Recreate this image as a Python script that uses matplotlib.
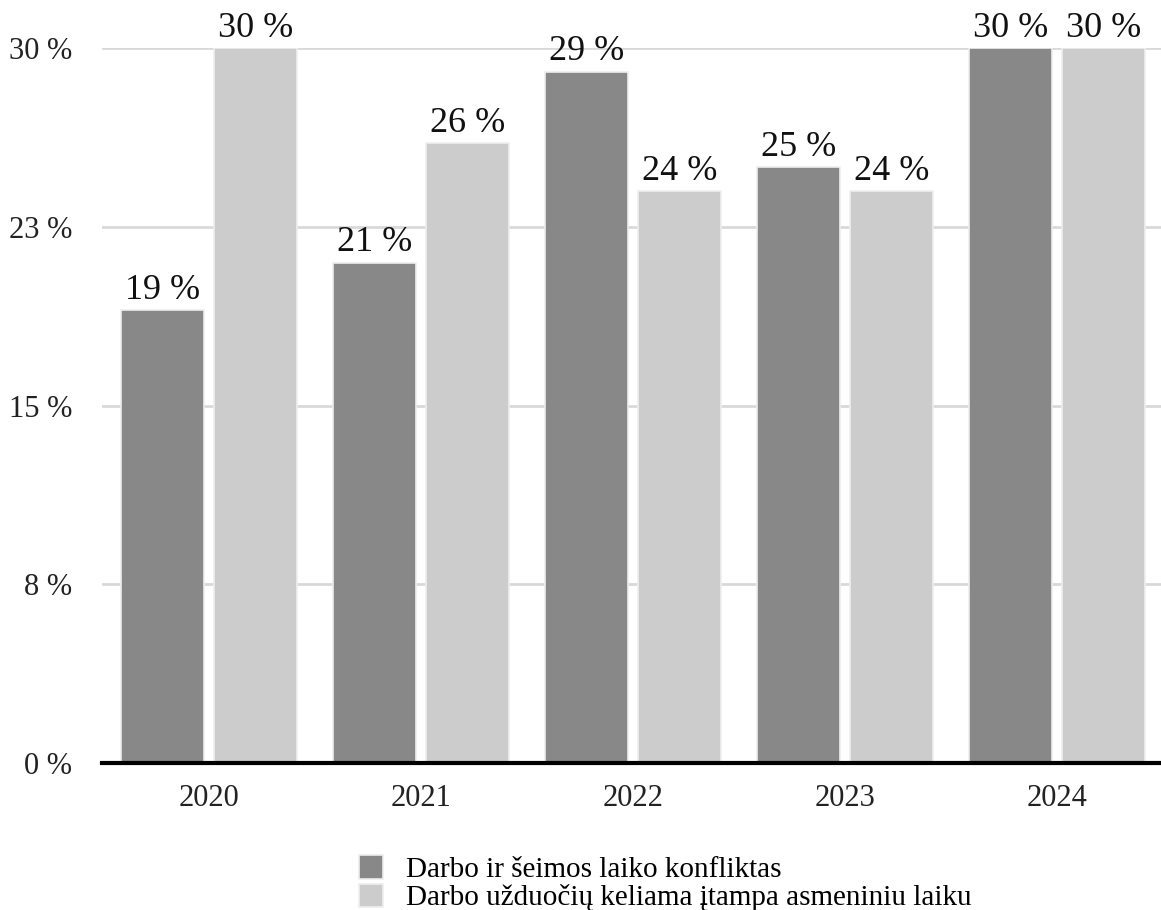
import matplotlib
matplotlib.use("Agg")
import matplotlib.pyplot as plt
import numpy as np

years = ["2020", "2021", "2022", "2023", "2024"]
series_names = ["Darbo ir šeimos laiko konfliktas",
                "Darbo užduočių keliama įtampa asmeniniu laiku"]
conflict = [19, 21, 29, 25, 30]
tension = [30, 26, 24, 24, 30]
ytick_values = [0, 7.5, 15, 22.5, 30]
ytick_labels = ["0 %", "8 %", "15 %", "23 %", "30 %"]

plt.rcParams['font.family'] = ['Liberation Serif', 'DejaVu Serif']

fig = plt.figure(figsize=(11.61, 9.10), dpi=100)
ax = fig.add_axes([0.0879, 0.1615, 0.9121, 0.7857])

x = np.arange(len(years))
w = 0.39
off = 0.22
colors = ["#888888", "#cccccc"]
for vals, o, c, name in [(conflict, -off, colors[0], series_names[0]),
                         (tension, off, colors[1], series_names[1])]:
    bars = ax.bar(x + o, vals, width=w, color=c, edgecolor="#eeeeee",
                  linewidth=1.2, label=name, zorder=3)
    for b, v in zip(bars, vals):
        ax.annotate(f"{v} %", (b.get_x() + b.get_width() / 2, v),
                    xytext=(0, 2.5), textcoords="offset points",
                    ha="center", va="bottom", fontsize=26, color="#111111",
                    annotation_clip=False)

ax.set_xlim(-0.505, 4.49)
ax.set_ylim(0, 30)
ax.set_yticks(ytick_values)
ax.set_yticklabels(ytick_labels)
ax.set_xticks(x)
ax.set_xticklabels(years)
ax.tick_params(axis='y', length=0, pad=21.5, labelsize=22, labelcolor="#222222")
ax.tick_params(axis='x', length=0, pad=15, labelsize=22, labelcolor="#222222")
ax.grid(axis='y', color="#d9d9d9", linewidth=2, zorder=0)
for s in ["top", "right", "left"]:
    ax.spines[s].set_visible(False)
ax.spines["bottom"].set_linewidth(3)
ax.spines["bottom"].set_color("black")
ax.spines["bottom"].set_zorder(4)

handles, labels = ax.get_legend_handles_labels()
fig.legend(handles, labels, loc="upper left", bbox_to_anchor=(0.309, 0.060),
           frameon=False, fontsize=21, handlelength=0.83, handleheight=0.85,
           handletextpad=0.8, labelspacing=0.02, borderaxespad=0, borderpad=0)

fig.savefig("out.png", dpi=100)
